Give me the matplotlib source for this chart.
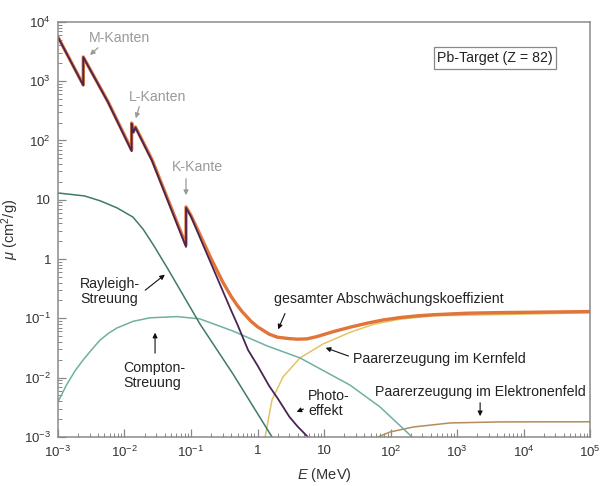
import matplotlib
matplotlib.use("Agg")
import matplotlib.pyplot as plt
from matplotlib.ticker import FixedLocator, FixedFormatter, LogLocator, NullFormatter

plt.rcParams["font.family"] = ["Liberation Sans", "DejaVu Sans"]
plt.rcParams["mathtext.fontset"] = "custom"
plt.rcParams["mathtext.rm"] = "Liberation Sans"
plt.rcParams["mathtext.it"] = "Liberation Sans:italic"

# energies in MeV, mass attenuation coefficients in cm^2/g
E_total = [0.001, 0.0024, 0.0024, 0.00565, 0.0128, 0.0128, 0.0136, 0.0146, 0.026,
           0.0841, 0.0841, 0.1, 0.15, 0.2, 0.3, 0.4, 0.5, 0.6, 0.8, 1.0, 1.5,
           2.0, 3.0, 4.0, 5.5, 7.76, 13.8, 24.6, 43.9, 78, 139, 248, 441, 1400,
           4440, 1e5]
mu_total = [5560, 863, 2560, 450, 69, 197, 140, 169, 47,
            1.73, 7.57, 5.4, 2.05, 1.02, 0.41, 0.235, 0.163, 0.126, 0.089, 0.072, 0.054,
            0.048, 0.0455, 0.0445, 0.045, 0.0491, 0.0597, 0.0708, 0.0826, 0.094, 0.103,
            0.110, 0.115, 0.122, 0.125, 0.130]

E_photo = [0.001, 0.0024, 0.0024, 0.00565, 0.0128, 0.0128, 0.0136, 0.0146, 0.026,
           0.0841, 0.0841, 0.1, 0.15, 0.2, 0.3, 0.4, 0.5, 0.72, 1.0, 1.5, 2.0,
           3.0, 4.0, 5.7]
mu_photo = [5540, 850, 2540, 440, 66, 192, 136, 165, 45,
            1.6, 7.3, 5.2, 1.78, 0.84, 0.29, 0.137, 0.078, 0.0293, 0.016, 0.0072, 0.0045,
            0.0022, 0.0015, 0.001]

E_rayleigh = [0.001, 0.0025, 0.0043, 0.0077, 0.0134, 0.019, 0.027, 0.0436, 0.1365,
              0.428, 1.65]
mu_rayleigh = [13.0, 11.6, 9.6, 7.3, 5.1, 3.2, 1.75, 0.72, 0.08, 0.0115, 0.001]

E_compton = [0.001, 0.00135, 0.00182, 0.0024, 0.00324, 0.00427, 0.00575, 0.00776,
             0.0135, 0.024, 0.0617, 0.135, 0.428, 1.39, 4.35, 24.5, 69.5, 210]
mu_compton = [0.0039, 0.0076, 0.0132, 0.020, 0.030, 0.0427, 0.056, 0.069,
              0.089, 0.102, 0.107, 0.098, 0.061, 0.0343, 0.0215, 0.0075, 0.0032, 0.001]

E_pair_n = [1.30, 1.65, 2.42, 4.35, 9.7, 24.6, 55, 140, 440, 1e5]
mu_pair_n = [0.001, 0.0042, 0.0103, 0.0215, 0.037, 0.058, 0.079, 0.097, 0.110, 0.124]

E_pair_e = [65, 98, 220, 785, 4440, 1e5]
mu_pair_e = [0.001, 0.00121, 0.00147, 0.00172, 0.00179, 0.0018]

xticks = [1e-3, 1e-2, 1e-1, 1, 10, 1e2, 1e3, 1e4, 1e5]
xticklabels = ["10$^{-3}$", "10$^{-2}$", "10$^{-1}$", "1", "10",
               "10$^{2}$", "10$^{3}$", "10$^{4}$", "10$^{5}$"]
yticks = [1e-3, 1e-2, 1e-1, 1, 10, 1e2, 1e3, 1e4]
yticklabels = ["10$^{-3}$", "10$^{-2}$", "10$^{-1}$", "1", "10",
               "10$^{2}$", "10$^{3}$", "10$^{4}$"]

fig = plt.figure(figsize=(6.04, 4.86), dpi=100)
ax = fig.add_axes([0.096, 0.101, 0.881, 0.854])

ax.plot(E_pair_e, mu_pair_e, color="#b48c5a", lw=1.1)
ax.plot(E_pair_n, mu_pair_n, color="#e3c464", lw=1.1)
ax.plot(E_compton, mu_compton, color="#6fb0a2", lw=1.1)
ax.plot(E_rayleigh, mu_rayleigh, color="#3f7a6a", lw=1.1)
ax.plot(E_total, mu_total, color="#e0743a", lw=2.4, solid_joinstyle="round")
ax.plot(E_photo, mu_photo, color="#4a2552", lw=1.3)

ax.set_xscale("log")
ax.set_yscale("log")
ax.set_xlim(1e-3, 1e5)
ax.set_ylim(1e-3, 1e4)

ax.xaxis.set_major_locator(FixedLocator(xticks))
ax.xaxis.set_major_formatter(FixedFormatter(xticklabels))
ax.yaxis.set_major_locator(FixedLocator(yticks))
ax.yaxis.set_major_formatter(FixedFormatter(yticklabels))
for axis in (ax.xaxis, ax.yaxis):
    axis.set_minor_locator(LogLocator(base=10, subs=range(2, 10), numticks=20))
    axis.set_minor_formatter(NullFormatter())

ax.tick_params(which="both", direction="in", color="#888888", labelsize=9.5,
               labelcolor="#333333", top=False, right=False)
ax.tick_params(which="major", length=6, width=0.9)
ax.tick_params(which="minor", length=3, width=0.7)
ax.tick_params(axis="x", pad=6)
ax.tick_params(axis="y", pad=5)
for s in ax.spines.values():
    s.set_color("#8a8a8a")
    s.set_linewidth(1.1)

ax.set_xlabel("$E$ (MeV)", fontsize=10.5, color="#333333", labelpad=4)
ax.set_ylabel(r"$\mu$ (cm$^2$/g)", fontsize=10.5, color="#333333", labelpad=2)

gray = "#9a9a9a"
garrow = dict(arrowstyle="-|>", color=gray, lw=0.9, mutation_scale=7)
karrow = dict(arrowstyle="-|>", color="#111111", lw=0.8, mutation_scale=7)
fs = 10.2

ax.text(0.00855, 5360, "M-Kanten", color=gray, fontsize=fs, ha="center", va="center")
ax.annotate("", xy=(0.00282, 2560), xytext=(0.00428, 3930), arrowprops=garrow)
ax.text(0.0319, 542, "L-Kanten", color=gray, fontsize=fs, ha="center", va="center")
ax.annotate("", xy=(0.0144, 213), xytext=(0.0171, 413), arrowprops=garrow)
ax.text(0.127, 35.7, "K-Kante", color=gray, fontsize=fs, ha="center", va="center")
ax.annotate("", xy=(0.0841, 10.7), xytext=(0.0841, 25.2), arrowprops=garrow)

ax.text(0.821, 0.913, "Pb-Target (Z = 82)", transform=ax.transAxes, fontsize=fs,
        ha="center", va="center", color="#222222",
        bbox=dict(boxstyle="square,pad=0.25", fc="white", ec="#888888", lw=0.9))

ax.text(0.00214, 0.279, "Rayleigh-\nStreuung", fontsize=fs, ha="left", va="center",
        color="#222222", linespacing=1.1)
ax.annotate("", xy=(0.0436, 0.583), xytext=(0.019, 0.279), arrowprops=karrow)

ax.text(0.0095, 0.0107, "Compton-\nStreuung", fontsize=fs, ha="left", va="center",
        color="#222222", linespacing=1.1)
ax.annotate("", xy=(0.0288, 0.0637), xytext=(0.0288, 0.0232), arrowprops=karrow)

ax.text(1.77, 0.212, "gesamter Abschwächungskoeffizient", fontsize=fs,
        ha="left", va="center", color="#222222")
ax.annotate("", xy=(1.96, 0.059), xytext=(2.69, 0.133), arrowprops=karrow)

ax.text(27.3, 0.0207, "Paarerzeugung im Kernfeld", fontsize=fs,
        ha="left", va="center", color="#222222")
ax.annotate("", xy=(9.66, 0.033), xytext=(25.5, 0.0223), arrowprops=karrow)

ax.text(5.74, 0.0036, "Photo-\neffekt", fontsize=fs, ha="left", va="center",
        color="#222222", linespacing=1.1)
ax.annotate("", xy=(3.54, 0.00254), xytext=(5.36, 0.00308), arrowprops=karrow)

ax.text(58.5, 0.00574, "Paarerzeugung im Elektronenfeld", fontsize=fs,
        ha="left", va="center", color="#222222")
ax.annotate("", xy=(2220, 0.00201), xytext=(2220, 0.0042), arrowprops=karrow)

fig.savefig("out.png", dpi=100)
